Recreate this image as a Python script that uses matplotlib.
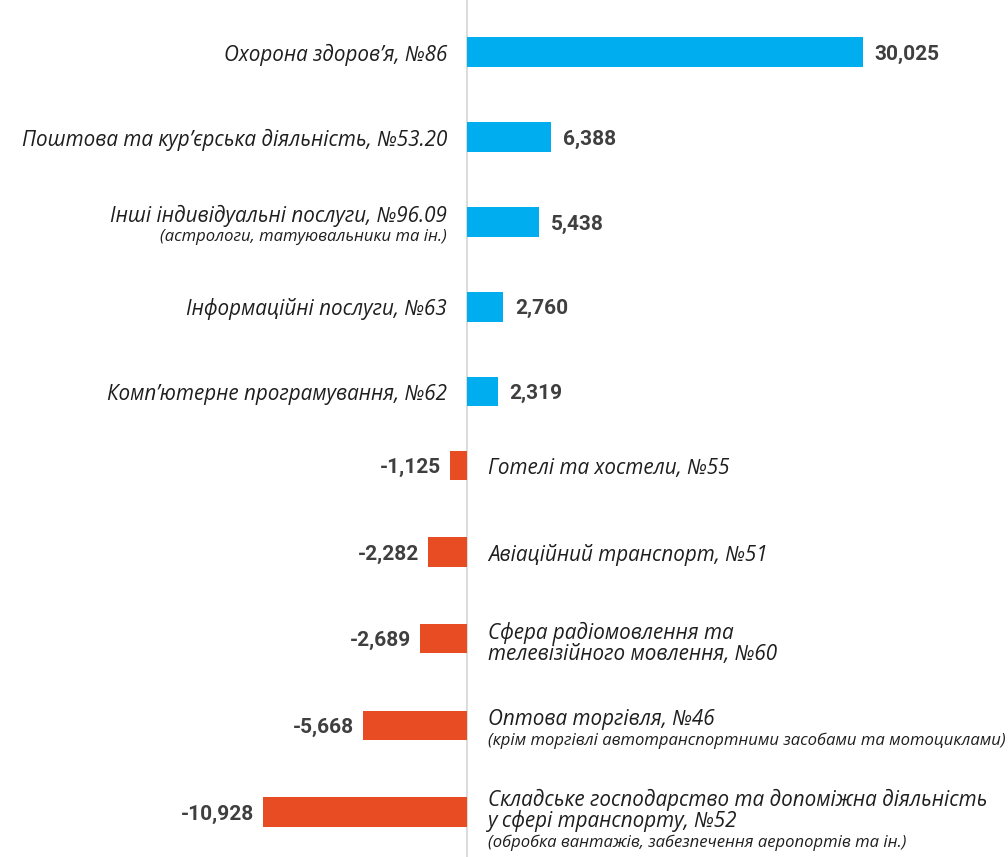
import numpy as np
import matplotlib
matplotlib.use("Agg")
import matplotlib.pyplot as plt
from matplotlib.scale import FuncScale

# ---------------- data ----------------
label_main = [
    "Охорона здоров’я, №86",
    "Поштова та кур’єрська діяльність, №53.20",
    "Інші індивідуальні послуги, №96.09",
    "Інформаційні послуги, №63",
    "Комп’ютерне програмування, №62",
    "Готелі та хостели, №55",
    "Авіаційний транспорт, №51",
    "Сфера радіомовлення та\nтелевізійного мовлення, №60",
    "Оптова торгівля, №46",
    "Складське господарство та допоміжна діяльність\nу сфері транспорту, №52",
]
label_sub = [
    "",
    "",
    "(астрологи, татуювальники та ін.)",
    "",
    "",
    "",
    "",
    "",
    "(крім торгівлі автотранспортними засобами та мотоциклами)",
    "(обробка вантажів, забезпечення аеропортів та ін.)",
]
values = [30025, 6388, 5438, 2760, 2319, -1125, -2282, -2689, -5668, -10928]

# ---------------- style ----------------
POS_COLOR = "#00AEEF"
NEG_COLOR = "#E84C22"
VAL_COLOR = "#3f3f3f"
TXT_COLOR = "#1e1e1e"

W, H, DPI = 1008, 857, 100
PX_PER_UNIT = 0.01318      # pixels per unit on the positive side
ZERO_PX = 467
NEG_K = 1.4476             # negative side is stretched in the original
NEG_C = 341.0


def fwd(x):
    x = np.asarray(x, dtype=float)
    return np.where(x >= 0, x, NEG_K * x + NEG_C)


def inv(f):
    f = np.asarray(f, dtype=float)
    return np.where(f >= 0, f, (f - NEG_C) / NEG_K)


fig = plt.figure(figsize=(W / DPI, H / DPI), dpi=DPI)
fig.patch.set_facecolor("white")
ax = fig.add_axes([0, 0, 1, 1])
ax.set_xscale(FuncScale(ax, (fwd, inv)))
ax.axis("off")

left_f = -ZERO_PX / PX_PER_UNIT
right_f = (W - ZERO_PX) / PX_PER_UNIT
ax.set_xlim(float(inv(left_f)), float(inv(right_f)))

# vertical layout (pixel units from top): positive group, then negative group
POS_TOP, POS_STEP = 52.2, 84.85
NEG_TOP, NEG_STEP = 465.5, 86.6
ax.set_ylim(H, 0)

ypos = []
kp = kn = 0
for v in values:
    if v >= 0:
        ypos.append(POS_TOP + POS_STEP * kp)
        kp += 1
    else:
        ypos.append(NEG_TOP + NEG_STEP * kn)
        kn += 1
ypos = np.array(ypos)

colors = [POS_COLOR if v >= 0 else NEG_COLOR for v in values]
ax.barh(ypos, values, height=29.5, color=colors, edgecolor="none", zorder=2)
ax.axvline(0, color="#d9d9d9", lw=1.3, zorder=1)

PT = 72.0 / DPI  # points per pixel

MAIN_FONT = dict(family="Open Sans", style="italic", size=14.9, color=TXT_COLOR)
SUB_FONT = dict(family="Open Sans", style="italic", size=12, color=TXT_COLOR)
VAL_FONT = dict(family="Roboto", weight="bold", size=15, color=VAL_COLOR)

for i, (v, main, sub) in enumerate(zip(values, label_main, label_sub)):
    yc = ypos[i]
    # value label
    if v >= 0:
        ax.annotate(f"{v:,}", (v, yc), xytext=(12 * PT, 0), textcoords="offset points",
                    ha="left", va="center_baseline", **VAL_FONT)
    else:
        ax.annotate(f"{v:,}", (v, yc), xytext=(-9 * PT, 0), textcoords="offset points",
                    ha="right", va="center_baseline", **VAL_FONT)

    # category label lines
    lines = [(t, "main") for t in main.split("\n")]
    if sub:
        lines.append((sub, "sub"))
    n = len(lines)
    step = 21.5
    offsets = [(k - (n - 1) / 2) * step for k in range(n)]
    shift = {1: 0, 2: 2.5, 3: 7}[n]
    if v >= 0:
        dx, ha = -20, "right"
    else:
        dx, ha = 21, "left"
    for (t, kind), off in zip(lines, offsets):
        font = MAIN_FONT if kind == "main" else SUB_FONT
        ax.annotate(t, (0, yc), xytext=(dx * PT, -(off + shift) * PT),
                    textcoords="offset points", ha=ha, va="center_baseline", **font)

fig.savefig("out.png", dpi=DPI, facecolor="white")
